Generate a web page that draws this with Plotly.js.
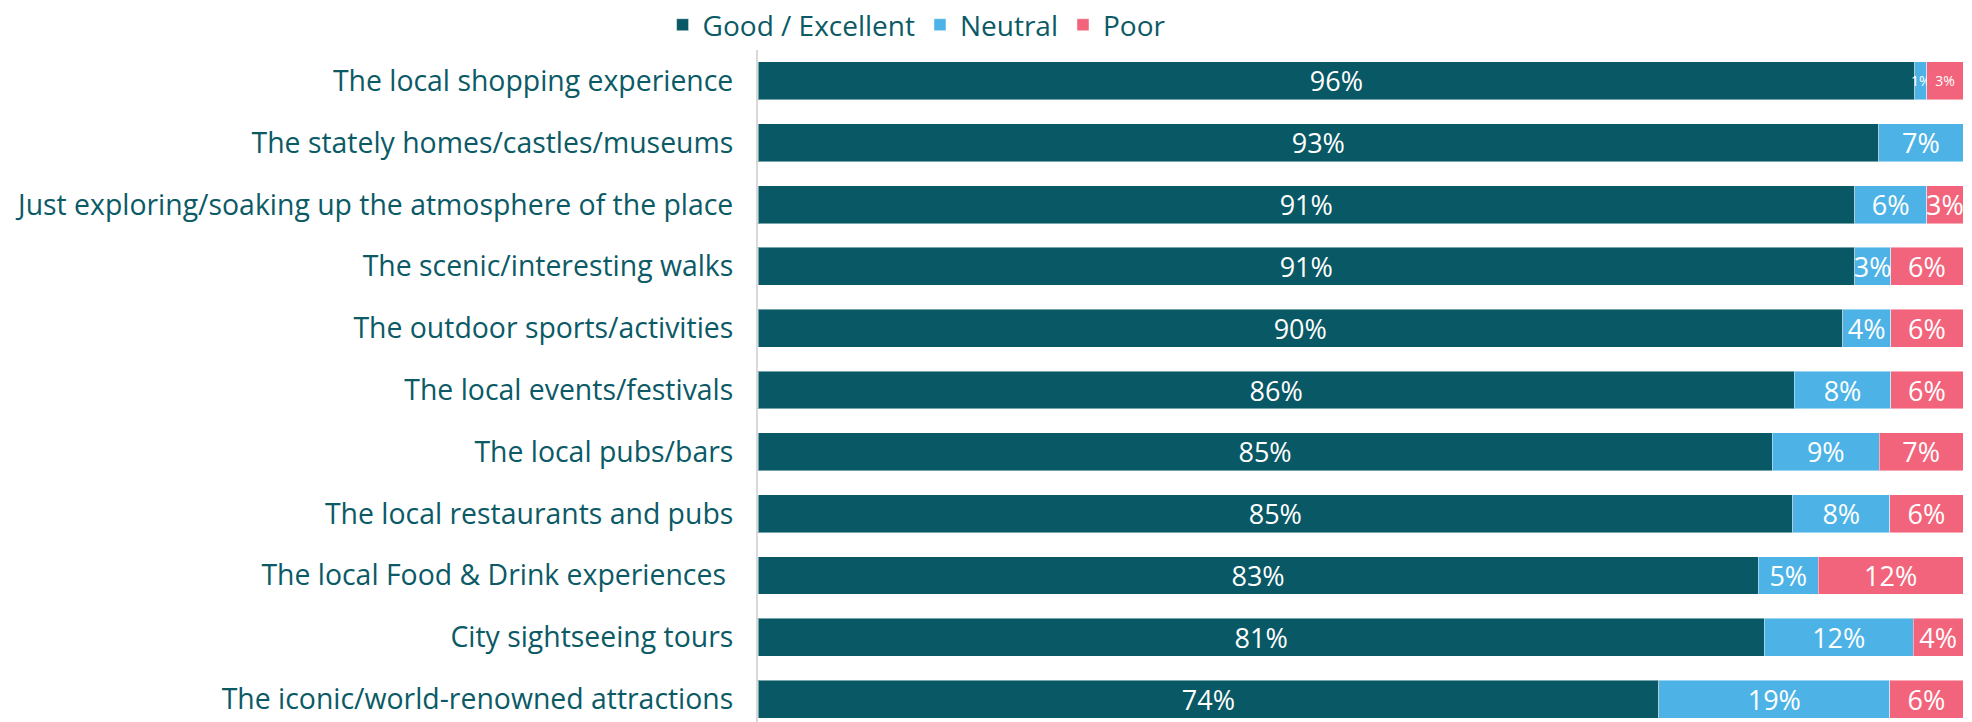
<!DOCTYPE html>
<html>
<head>
<meta charset="utf-8">
<script src="https://cdn.plot.ly/plotly-3.0.1.min.js"></script>
<style>
  html, body { margin: 0; padding: 0; background: #ffffff; }
  #chart { width: 1972px; height: 722px; }
</style>
</head>
<body>
<div id="chart"></div>
<script>
const categories = [
  "The local shopping experience",
  "The stately homes/castles/museums",
  "Just exploring/soaking up the atmosphere of the place",
  "The scenic/interesting walks",
  "The outdoor sports/activities",
  "The local events/festivals",
  "The local pubs/bars",
  "The local restaurants and pubs",
  "The local Food & Drink experiences\u00a0",
  "City sightseeing tours",
  "The iconic/world-renowned attractions"
];
const goodExcellent = [96, 93, 91, 91, 90, 86, 85, 85, 83, 81, 74];
const neutral       = [1, 7, 6, 3, 4, 8, 9, 8, 5, 12, 19];
const poor          = [3, 0, 3, 6, 6, 6, 7, 6, 12, 4, 6];
const seriesNames = ["Good / Excellent", "Neutral", "Poor"];

const colors = ["#085865", "#4db3e6", "#f2647b"];
const labelColor = "#0b5a66";
const FONT = "'Open Sans', sans-serif";

function mkTrace(name, vals, color, smallFirst) {
  return {
    type: "bar",
    orientation: "h",
    name: name,
    y: categories,
    x: vals,
    text: vals.map(v => v > 0 ? v + "%" : ""),
    textposition: "inside",
    insidetextanchor: "middle",
    textangle: 0,
    constraintext: "none",
    textfont: {
      family: FONT,
      color: "#ffffff",
      size: vals.map((v, i) => (smallFirst && i === 0) ? 14 : 27)
    },
    marker: { color: color, line: { color: "rgba(255,255,255,0.45)", width: 1 } },
    hoverinfo: "skip"
  };
}

const data = [
  mkTrace(seriesNames[0], goodExcellent, colors[0], false),
  mkTrace(seriesNames[1], neutral, colors[1], true),
  mkTrace(seriesNames[2], poor, colors[2], true)
];

const layout = {
  width: 1972,
  height: 722,
  barmode: "stack",
  barnorm: "percent",
  bargap: 0.387,
  margin: { l: 758, r: 9, t: 48, b: 0, pad: 0 },
  paper_bgcolor: "#ffffff",
  plot_bgcolor: "#ffffff",
  font: { family: FONT, color: labelColor },
  showlegend: true,
  legend: {
    orientation: "h",
    xref: "container",
    yref: "container",
    x: 0.336,
    xanchor: "left",
    y: 1.0,
    yanchor: "top",
    font: { family: FONT, size: 28, color: labelColor },
    traceorder: "normal",
    itemclick: false,
    itemdoubleclick: false
  },
  xaxis: {
    range: [0, 100],
    visible: false,
    fixedrange: true
  },
  yaxis: {
    type: "category",
    range: [10.37, -0.5],
    showline: true,
    linecolor: "#d9d9d9",
    linewidth: 2,
    showgrid: false,
    zeroline: false,
    ticks: "",
    ticklabelstandoff: 17,
    tickfont: { family: FONT, size: 28.4, color: labelColor },
    fixedrange: true
  }
};

Plotly.newPlot("chart", data, layout, { displayModeBar: false, staticPlot: true });
</script>
</body>
</html>
